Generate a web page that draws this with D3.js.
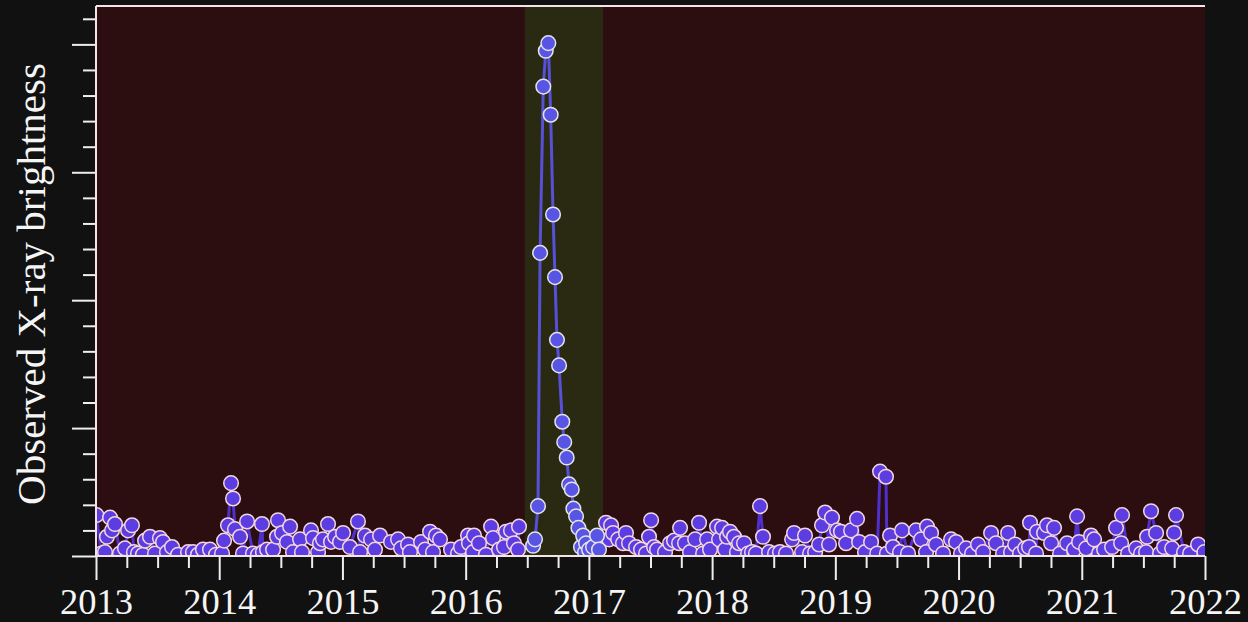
<!DOCTYPE html>
<html>
<head>
<meta charset="utf-8">
<script src="https://cdn.jsdelivr.net/npm/d3@7"></script>
<style>
  html, body { margin: 0; padding: 0; background: #111111; }
  svg { display: block; }
</style>
</head>
<body>
<svg id="chart" width="1248" height="622"></svg>
<script>
// Quiescent monitoring: observation epoch (decimal year) and brightness
const quietYears = [
  2013.004, 2013.041, 2013.073, 2013.089, 2013.114, 2013.130, 2013.154, 2013.195, 2013.235, 2013.260,
  2013.292, 2013.308, 2013.341, 2013.381, 2013.398, 2013.438, 2013.479, 2013.519, 2013.544, 2013.576,
  2013.617, 2013.666, 2013.747, 2013.787, 2013.828, 2013.868, 2013.925, 2013.974, 2014.023, 2014.039,
  2014.071, 2014.096, 2014.112, 2014.128, 2014.169, 2014.193, 2014.226, 2014.274, 2014.315, 2014.347,
  2014.355, 2014.388, 2014.437, 2014.469, 2014.477, 2014.510, 2014.550, 2014.575, 2014.599, 2014.656,
  2014.672, 2014.745, 2014.761, 2014.802, 2014.818, 2014.842, 2014.883, 2014.907, 2014.940, 2014.980,
  2015.005, 2015.061, 2015.126, 2015.143, 2015.183, 2015.232, 2015.264, 2015.305, 2015.394, 2015.451,
  2015.475, 2015.532, 2015.548, 2015.638, 2015.670, 2015.711, 2015.735, 2015.759, 2015.792, 2015.881,
  2015.938, 2015.962, 2016.019, 2016.027, 2016.060, 2016.068, 2016.108, 2016.165, 2016.206, 2016.222,
  2016.271, 2016.311, 2016.327, 2016.368, 2016.392, 2016.425, 2016.433,
  2017.139, 2017.164, 2017.180, 2017.196, 2017.237, 2017.277, 2017.301, 2017.326, 2017.383, 2017.423,
  2017.464, 2017.488, 2017.505, 2017.529, 2017.553, 2017.618, 2017.659, 2017.691, 2017.732, 2017.740,
  2017.780, 2017.821, 2017.862, 2017.894, 2017.927, 2017.959, 2017.983, 2018.040, 2018.056, 2018.081,
  2018.105, 2018.121, 2018.145, 2018.178, 2018.202, 2018.219, 2018.259, 2018.292, 2018.324, 2018.356,
  2018.389, 2018.413, 2018.462, 2018.511, 2018.551, 2018.600, 2018.649, 2018.665, 2018.730, 2018.754,
  2018.795, 2018.836, 2018.868, 2018.892, 2018.917, 2018.949, 2018.973, 2019.014, 2019.046, 2019.087,
  2019.128, 2019.176, 2019.193, 2019.241, 2019.290, 2019.340, 2019.363, 2019.411, 2019.419, 2019.444,
  2019.468, 2019.525, 2019.541, 2019.590, 2019.655, 2019.696, 2019.736, 2019.744, 2019.777, 2019.817,
  2019.874, 2019.939, 2019.980, 2020.020, 2020.061, 2020.110, 2020.158, 2020.199, 2020.264, 2020.304,
  2020.361, 2020.402, 2020.426, 2020.459, 2020.499, 2020.540, 2020.572, 2020.580, 2020.629, 2020.637,
  2020.694, 2020.718, 2020.751, 2020.775, 2020.824, 2020.881, 2020.937, 2020.962, 2020.978, 2021.035,
  2021.075, 2021.100, 2021.140, 2021.181, 2021.246, 2021.278, 2021.319, 2021.327, 2021.376, 2021.441,
  2021.481, 2021.522, 2021.530, 2021.562, 2021.603, 2021.636, 2021.668, 2021.733, 2021.749, 2021.765,
  2021.830, 2021.879, 2021.944, 2021.995
];
const quietValues = [
  0.32, 0.02, 0.03, 0.15, 0.30, 0.20, 0.25, 0.02, 0.06, 0.20,
  0.24, 0.03, 0.02, 0.01, 0.12, 0.15, 0.02, 0.14, 0.11, 0.03,
  0.07, 0.01, 0.03, 0.03, 0.01, 0.05, 0.05, 0.01, 0.02, 0.12,
  0.24, 0.57, 0.45, 0.21, 0.15, 0.02, 0.27, 0.02, 0.01, 0.25,
  0.03, 0.05, 0.05, 0.15, 0.28, 0.18, 0.11, 0.23, 0.03, 0.13,
  0.03, 0.20, 0.14, 0.03, 0.10, 0.13, 0.25, 0.11, 0.15, 0.11,
  0.18, 0.07, 0.27, 0.03, 0.16, 0.13, 0.05, 0.16, 0.11, 0.13,
  0.06, 0.09, 0.03, 0.11, 0.05, 0.19, 0.03, 0.16, 0.13, 0.05,
  0.02, 0.07, 0.16, 0.10, 0.03, 0.16, 0.10, 0.01, 0.23, 0.14,
  0.05, 0.07, 0.19, 0.20, 0.10, 0.05, 0.23,
  0.26, 0.13, 0.24, 0.18, 0.13, 0.10, 0.18, 0.10, 0.07, 0.05,
  0.02, 0.15, 0.28, 0.07, 0.05, 0.03, 0.10, 0.12, 0.10, 0.22,
  0.10, 0.03, 0.13, 0.26, 0.02, 0.13, 0.05, 0.23, 0.13, 0.22,
  0.05, 0.15, 0.19, 0.15, 0.03, 0.10, 0.10, 0.02, 0.03, 0.02,
  0.39, 0.15, 0.03, 0.02, 0.03, 0.02, 0.13, 0.18, 0.03, 0.16,
  0.02, 0.03, 0.09, 0.24, 0.34, 0.09, 0.30, 0.20, 0.19, 0.10,
  0.20, 0.29, 0.11, 0.03, 0.11, 0.02, 0.66, 0.62, 0.02, 0.16,
  0.07, 0.03, 0.20, 0.02, 0.20, 0.13, 0.03, 0.23, 0.18, 0.09,
  0.02, 0.13, 0.11, 0.02, 0.06, 0.02, 0.09, 0.03, 0.18, 0.10,
  0.02, 0.18, 0.03, 0.09, 0.02, 0.06, 0.07, 0.26, 0.02, 0.19,
  0.18, 0.24, 0.10, 0.22, 0.02, 0.10, 0.05, 0.31, 0.11, 0.06,
  0.16, 0.13, 0.02, 0.05, 0.07, 0.22, 0.10, 0.32, 0.02, 0.06,
  0.02, 0.03, 0.15, 0.35, 0.18, 0.02, 0.07, 0.06, 0.18, 0.32,
  0.03, 0.02, 0.09, 0.03
];

// Outburst: rise, peak and decay
const flareYears = [
  2016.547, 2016.563, 2016.587, 2016.604, 2016.630, 2016.650, 2016.671, 2016.690, 2016.709, 2016.725,
  2016.741, 2016.758, 2016.784, 2016.800, 2016.820, 2016.839, 2016.861, 2016.874, 2016.896, 2016.915,
  2016.936, 2016.953, 2016.969, 2016.977, 2017.001, 2017.034, 2017.066, 2017.082
];
const flareValues = [
  0.08, 0.13, 0.39, 2.37, 3.67, 3.95, 4.01, 3.45, 2.67, 2.18,
  1.69, 1.49, 1.05, 0.89, 0.77, 0.56, 0.52, 0.37, 0.31, 0.22,
  0.07, 0.16, 0.03, 0.10, 0.05, 0.07, 0.16, 0.05
];

// Window highlighted around the outburst
const outburstWindow = [2016.48, 2017.115];

// Axis ticks
const yearTicks = [2013, 2014, 2015, 2016, 2017, 2018, 2019, 2020, 2021, 2022];
const yearRange = [2013, 2022];
const brightnessRange = [0, 4.3];
const brightnessMajor = [0, 1, 2, 3, 4];
const brightnessMinorStep = 0.2;
const yLabel = "Observed X-ray brightness";

const svg = d3.select("#chart");
const margin = { top: 6, right: 43, bottom: 66, left: 96 };
const W = 1248, H = 622;
const innerW = W - margin.left - margin.right;
const innerH = H - margin.top - margin.bottom;

const x = d3.scaleLinear().domain(yearRange).range([margin.left, margin.left + innerW]);
const y = d3.scaleLinear().domain(brightnessRange).range([margin.top + innerH, margin.top]);

const quiet = quietYears.map((t, i) => ({ t, v: quietValues[i] }));
const flare = flareYears.map((t, i) => ({ t, v: flareValues[i] }));
// The quiescent curve is drawn as two runs, before and after the outburst window
const quietRuns = [
  quiet.filter(d => d.t < outburstWindow[0]),
  quiet.filter(d => d.t > outburstWindow[1])
];

// Plot background and highlighted window
svg.append("rect")
  .attr("x", x(yearRange[0])).attr("y", y(brightnessRange[1]))
  .attr("width", x(yearRange[1]) - x(yearRange[0]))
  .attr("height", y(brightnessRange[0]) - y(brightnessRange[1]))
  .attr("fill", "#2c0e10");

svg.append("rect")
  .attr("x", x(outburstWindow[0])).attr("y", y(brightnessRange[1]))
  .attr("width", x(outburstWindow[1]) - x(outburstWindow[0]))
  .attr("height", y(brightnessRange[0]) - y(brightnessRange[1]))
  .attr("fill", "#2a2a13");

svg.append("clipPath").attr("id", "plot-clip")
  .append("rect")
  .attr("x", x(yearRange[0])).attr("y", y(brightnessRange[1]))
  .attr("width", x(yearRange[1]) - x(yearRange[0]))
  .attr("height", y(brightnessRange[0]) - y(brightnessRange[1]));

const plot = svg.append("g").attr("clip-path", "url(#plot-clip)");

const line = d3.line().x(d => x(d.t)).y(d => y(d.v));
const R = 7.3;

// Quiescent light curve
plot.append("g").selectAll("path").data(quietRuns).join("path")
  .attr("d", line)
  .attr("fill", "none")
  .attr("stroke", "#5030cc")
  .attr("stroke-width", 3)
  .attr("stroke-linejoin", "round");

plot.append("g").selectAll("circle").data(quiet).join("circle")
  .attr("cx", d => x(d.t)).attr("cy", d => y(d.v)).attr("r", R)
  .attr("fill", "#5c3de2")
  .attr("stroke", "#f3d6de")
  .attr("stroke-width", 1.5);

// Outburst light curve
plot.append("path").datum(flare)
  .attr("d", line)
  .attr("fill", "none")
  .attr("stroke", "#5651d6")
  .attr("stroke-width", 3)
  .attr("stroke-linejoin", "round");

plot.append("g").selectAll("circle").data(flare).join("circle")
  .attr("cx", d => x(d.t)).attr("cy", d => y(d.v)).attr("r", R)
  .attr("fill", "#5855e4")
  .attr("stroke", "#e4e4e8")
  .attr("stroke-width", 1.5);

// Axes
const tickColor = "#eeeeee";
const spineColor = "#f4e4e7";
const fontFamily = "'Liberation Serif', 'DejaVu Serif', serif";

const minorYears = d3.range(yearRange[0], yearRange[1] + 0.001, 0.25)
  .filter(t => Math.abs(t - Math.round(t)) > 1e-6);

const xMinor = svg.append("g")
  .attr("transform", `translate(0,${y(0)})`)
  .call(d3.axisBottom(x).tickValues(minorYears).tickSize(12).tickFormat(""));

const xMajor = svg.append("g")
  .attr("transform", `translate(0,${y(0)})`)
  .call(d3.axisBottom(x).tickValues(yearTicks).tickSize(24).tickFormat(d3.format("d")));

xMajor.selectAll("text")
  .attr("y", 57.5).attr("dy", null)
  .attr("fill", "#f5f5f5")
  .style("font-family", fontFamily)
  .style("font-size", "36.5px");

const minorBrightness = d3.range(0, brightnessRange[1], brightnessMinorStep)
  .filter(v => Math.abs(v - Math.round(v)) > 1e-6);

const yMinor = svg.append("g")
  .attr("transform", `translate(${x(yearRange[0])},0)`)
  .call(d3.axisLeft(y).tickValues(minorBrightness).tickSize(13).tickFormat(""));

const yMajor = svg.append("g")
  .attr("transform", `translate(${x(yearRange[0])},0)`)
  .call(d3.axisLeft(y).tickValues(brightnessMajor).tickSize(24).tickFormat(""));

[xMinor, xMajor, yMinor, yMajor].forEach(g => {
  g.select(".domain").remove();
  g.selectAll(".tick line").attr("stroke", tickColor).attr("stroke-width", 2);
});

// Frame
const x0 = x(yearRange[0]), x1 = x(yearRange[1]);
const yTop = y(brightnessRange[1]), yBot = y(brightnessRange[0]);
svg.append("line").attr("x1", x0).attr("x2", x1).attr("y1", yTop).attr("y2", yTop)
  .attr("stroke", spineColor).attr("stroke-width", 2);
svg.append("line").attr("x1", x0).attr("x2", x1).attr("y1", yBot).attr("y2", yBot)
  .attr("stroke", spineColor).attr("stroke-width", 2);
svg.append("line").attr("x1", x0).attr("x2", x0).attr("y1", yTop).attr("y2", yBot)
  .attr("stroke", spineColor).attr("stroke-width", 2);

// Axis title
svg.append("text")
  .attr("transform", `translate(45,${(yTop + yBot) / 2 + 3}) rotate(-90)`)
  .attr("text-anchor", "middle")
  .attr("fill", "#f5f5f5")
  .style("font-family", fontFamily)
  .style("font-size", "41px")
  .text(yLabel);
</script>
</body>
</html>
